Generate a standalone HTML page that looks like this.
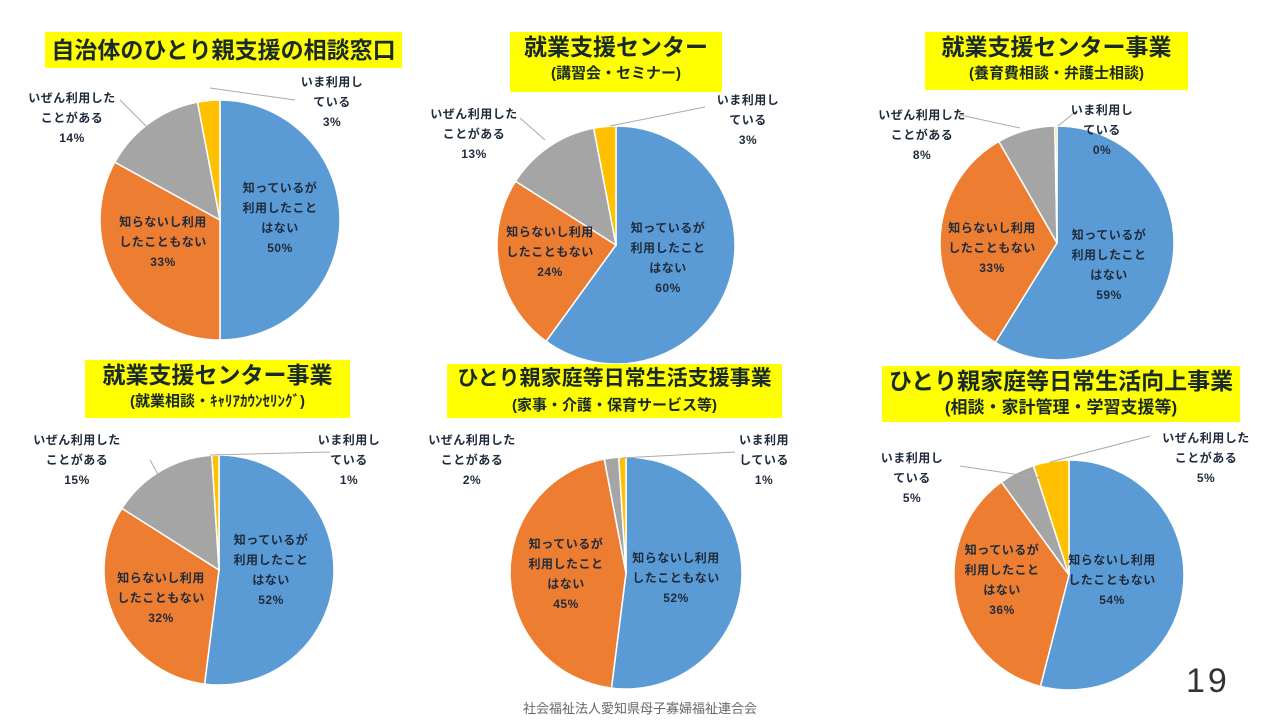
<!DOCTYPE html>
<html><head><meta charset="utf-8"><style>
body{margin:0;width:1280px;height:720px;background:#fff;position:relative;overflow:hidden;font-family:"Liberation Sans","Noto Sans CJK JP",sans-serif;}
.t{position:absolute;background:#ffff00;color:#1a2a2a;font-weight:bold;text-align:center;white-space:nowrap;}
.t .m{font-size:23px;line-height:30px}
.t .s{font-size:15px;line-height:24px}
.l{position:absolute;font-size:12px;font-weight:bold;color:#1e2b3c;text-align:center;line-height:20px;white-space:nowrap;transform:translateX(-50%);letter-spacing:0.5px}
svg{position:absolute;left:0;top:0}
</style></head><body>
<svg id="s" width="1280" height="720"></svg>
<div class="t" style="left:45px;top:32px;width:357px;height:36px"><div class="m" style="line-height:36px">自治体のひとり親支援の相談窓口</div></div>
<div class="t" style="left:510px;top:32px;width:212px;height:60px"><div class="m">就業支援センター</div><div class="s">(講習会・セミナー)</div></div>
<div class="t" style="left:925px;top:32px;width:263px;height:58px"><div class="m">就業支援センター事業</div><div class="s">(養育費相談・弁護士相談)</div></div>
<div class="t" style="left:85px;top:360px;width:265px;height:58px"><div class="m">就業支援センター事業</div><div class="s">(就業相談・ｷｬﾘｱｶｳﾝｾﾘﾝｸﾞ)</div></div>
<div class="t" style="left:447px;top:364px;width:335px;height:54px"><div class="m" style="font-size:21px">ひとり親家庭等日常生活支援事業</div><div class="s">(家事・介護・保育サービス等)</div></div>
<div class="t" style="left:882px;top:366px;width:358px;height:56px"><div class="m">ひとり親家庭等日常生活向上事業</div><div class="s" style="font-size:17px">(相談・家計管理・学習支援等)</div></div>

<div class="l" style="left:280px;top:178px">知っているが<br>利用したこと<br>はない<br>50%</div>
<div class="l" style="left:163px;top:212px">知らないし利用<br>したこともない<br>33%</div>
<div class="l" style="left:72px;top:88px">いぜん利用した<br>ことがある<br>14%</div>
<div class="l" style="left:332px;top:72px">いま利用し<br>ている<br>3%</div>

<div class="l" style="left:668px;top:218px">知っているが<br>利用したこと<br>はない<br>60%</div>
<div class="l" style="left:550px;top:222px">知らないし利用<br>したこともない<br>24%</div>
<div class="l" style="left:474px;top:104px">いぜん利用した<br>ことがある<br>13%</div>
<div class="l" style="left:748px;top:90px">いま利用し<br>ている<br>3%</div>

<div class="l" style="left:1109px;top:225px">知っているが<br>利用したこと<br>はない<br>59%</div>
<div class="l" style="left:992px;top:218px">知らないし利用<br>したこともない<br>33%</div>
<div class="l" style="left:922px;top:105px">いぜん利用した<br>ことがある<br>8%</div>
<div class="l" style="left:1102px;top:100px">いま利用し<br>ている<br>0%</div>

<div class="l" style="left:271px;top:530px">知っているが<br>利用したこと<br>はない<br>52%</div>
<div class="l" style="left:161px;top:568px">知らないし利用<br>したこともない<br>32%</div>
<div class="l" style="left:77px;top:430px">いぜん利用した<br>ことがある<br>15%</div>
<div class="l" style="left:349px;top:430px">いま利用し<br>ている<br>1%</div>

<div class="l" style="left:676px;top:548px">知らないし利用<br>したこともない<br>52%</div>
<div class="l" style="left:566px;top:534px">知っているが<br>利用したこと<br>はない<br>45%</div>
<div class="l" style="left:472px;top:430px">いぜん利用した<br>ことがある<br>2%</div>
<div class="l" style="left:764px;top:430px">いま利用<br>している<br>1%</div>

<div class="l" style="left:1112px;top:550px">知らないし利用<br>したこともない<br>54%</div>
<div class="l" style="left:1002px;top:540px">知っているが<br>利用したこと<br>はない<br>36%</div>
<div class="l" style="left:912px;top:448px">いま利用し<br>ている<br>5%</div>
<div class="l" style="left:1206px;top:428px">いぜん利用した<br>ことがある<br>5%</div>

<div style="position:absolute;left:1186px;top:662px;font-size:34px;color:#333;letter-spacing:3px">19</div>
<div style="position:absolute;left:0;width:1280px;top:698px;text-align:center;font-size:13px;color:#666">社会福祉法人愛知県母子寡婦福祉連合会</div>
<script>
var C=["#5b9bd5","#ed7d31","#a5a5a5","#ffc000"];
var P=[[220,220,120,[50,33,14,3]],[616,245,119,[60,24,13,3]],[1057,243,117,[59,33,8,0.3]],[219,570,115,[52,32,15,1]],[626,573,116,[52,45,2,1]],[1069,575,115,[54,36,5,5]]];
var L=[[[295,100],[210,88]],[[705,107],[610,126]],[[1075,112],[1058,126]],[[330,452],[210,455]],[[735,452],[622,458]],[[960,466],[1040,478]],[[120,100],[160,140]],[[520,118],[545,140]],[[960,115],[1020,128]],[[150,460],[160,478]],[[1150,436],[1050,462]]];
var s="";
P.forEach(function(p){var cx=p[0],cy=p[1],r=p[2],d=p[3],t=d.reduce(function(a,b){return a+b}),a=0;
d.forEach(function(v,i){var a2=a+v/t*2*Math.PI;var x1=cx+r*Math.sin(a),y1=cy-r*Math.cos(a),x2=cx+r*Math.sin(a2),y2=cy-r*Math.cos(a2);
s+='<path d="M'+cx+','+cy+'L'+x1+','+y1+'A'+r+','+r+' 0 '+(a2-a>Math.PI?1:0)+' 1 '+x2+','+y2+'Z" fill="'+C[i]+'" stroke="#fff" stroke-width="1.5"/>';a=a2;});});
L.forEach(function(l){s+='<line x1="'+l[0][0]+'" y1="'+l[0][1]+'" x2="'+l[1][0]+'" y2="'+l[1][1]+'" stroke="#aaa" stroke-width="1"/>';});
document.getElementById("s").innerHTML=s;
</script>
</body></html>
